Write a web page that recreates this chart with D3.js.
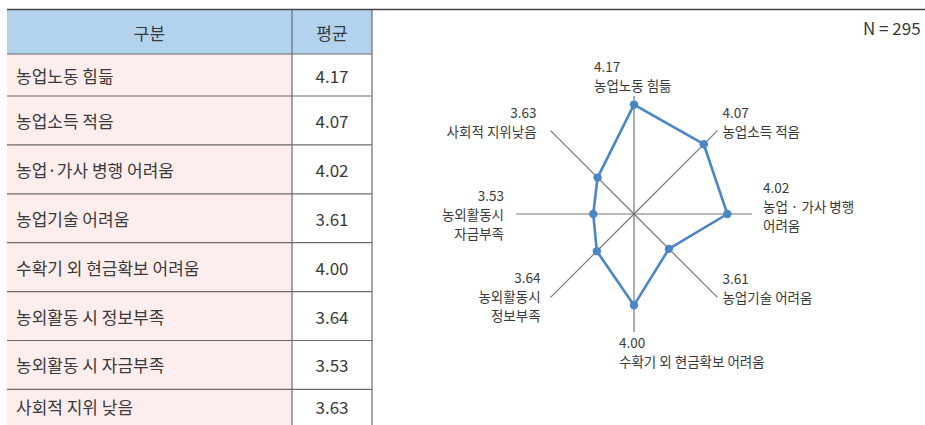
<!DOCTYPE html>
<meta charset="utf-8">
<style>
body { margin: 0; background: #fff; }
svg text { font-family: "Noto Sans CJK KR", "Noto Sans", sans-serif; fill: #3a3a3a; }
</style>
<body>
<script src="https://d3js.org/d3.v7.min.js"></script>
<script>

// data
var headers = ["구분", "평균"];
var categories = ["농업노동 힘듦", "농업소득 적음", "농업·가사 병행 어려움", "농업기술 어려움",
  "수확기 외 현금확보 어려움", "농외활동 시 정보부족", "농외활동 시 자금부족", "사회적 지위 낮음"];
var values = [4.17, 4.07, 4.02, 3.61, 4.00, 3.64, 3.53, 3.63];
var radarLabels = [["농업노동 힘듦"], ["농업소득 적음"], ["농업 · 가사 병행", "어려움"], ["농업기술 어려움"],
  ["수확기 외 현금확보 어려움"], ["농외활동시", "정보부족"], ["농외활동시", "자금부족"], ["사회적 지위낮음"]];
var sampleNote = "N = 295";

var width = 925, height = 425;

var svg = d3.select("body").append("svg")
  .attr("width", width)
  .attr("height", height);

// ---- table ----
var colX = [7, 292, 372];
var headTop = 10, headBottom = 54;
var nRows = categories.length;
// first data row is a bit shorter, last one is cut by the page edge
function rowTop(i) { return i === 0 ? headBottom : 96 + (i - 1) * 48.9; }
function rowBottom(i) { return i === nRows - 1 ? height - 1 : rowTop(i + 1); }

svg.append("rect")
  .attr("x", colX[0]).attr("y", headTop)
  .attr("width", colX[2] - colX[0]).attr("height", headBottom - headTop)
  .attr("fill", "#b3d2ee");

var rows = svg.selectAll(".row").data(categories).enter()
  .append("g").attr("class", "row");

rows.append("rect")
  .attr("x", colX[0]).attr("y", function(d, i) { return rowTop(i); })
  .attr("width", colX[1] - colX[0])
  .attr("height", function(d, i) { return (i === nRows - 1 ? height : rowBottom(i)) - rowTop(i); })
  .attr("fill", "#fdeded");

rows.append("text")
  .attr("x", 16)
  .attr("y", function(d, i) { return (rowTop(i) + rowBottom(i)) / 2; })
  .attr("dominant-baseline", "central")
  .style("font-size", "17px")
  .text(function(d) { return d; });

rows.append("text")
  .attr("x", (colX[1] + colX[2]) / 2)
  .attr("y", function(d, i) { return (rowTop(i) + rowBottom(i)) / 2; })
  .attr("text-anchor", "middle")
  .attr("dominant-baseline", "central")
  .style("font-size", "17px")
  .text(function(d, i) { return values[i].toFixed(2); });

rows.append("line")
  .attr("x1", colX[0]).attr("x2", colX[2])
  .attr("y1", function(d, i) { return rowTop(i); })
  .attr("y2", function(d, i) { return rowTop(i); })
  .attr("stroke", "#6b6b6b").attr("stroke-width", 1.2);

svg.selectAll(".head").data(headers).enter()
  .append("text")
  .attr("x", function(d, i) { return (colX[i] + colX[i + 1]) / 2; })
  .attr("y", (headTop + headBottom) / 2)
  .attr("text-anchor", "middle")
  .attr("dominant-baseline", "central")
  .style("font-size", "17px")
  .text(function(d) { return d; });

// vertical rules
[colX[1], colX[2]].forEach(function(x) {
  svg.append("line")
    .attr("x1", x).attr("x2", x).attr("y1", headTop).attr("y2", height)
    .attr("stroke", "#6b6b6b").attr("stroke-width", 1.2);
});

// top rule across the page
svg.append("line")
  .attr("x1", colX[0]).attr("x2", width).attr("y1", 9.5).attr("y2", 9.5)
  .attr("stroke", "#444").attr("stroke-width", 1.5);

svg.append("text")
  .attr("x", 863).attr("y", 27)
  .attr("dominant-baseline", "central")
  .style("font-size", "17px")
  .text(sampleNote);

// ---- radar ----
var cx = 634, cy = 214, R = 118;
var r = d3.scaleLinear().domain([3.15, 4.25]).range([0, R]);
var n = categories.length;
function angle(i) { return i * 2 * Math.PI / n; }

var radar = svg.append("g").attr("transform", "translate(" + cx + "," + cy + ")");

radar.selectAll(".spoke").data(categories).enter()
  .append("line")
  .attr("x1", 0).attr("y1", 0)
  .attr("x2", function(d, i) { return R * Math.sin(angle(i)); })
  .attr("y2", function(d, i) { return -R * Math.cos(angle(i)); })
  .attr("stroke", "#777").attr("stroke-width", 1.2);

var line = d3.lineRadial()
  .angle(function(d, i) { return angle(i); })
  .radius(function(d) { return r(d); })
  .curve(d3.curveLinearClosed);

radar.append("path")
  .datum(values)
  .attr("d", line)
  .attr("fill", "none")
  .attr("stroke", "#4a86c5")
  .attr("stroke-width", 2.6)
  .attr("stroke-linejoin", "round");

radar.selectAll(".dot").data(values).enter()
  .append("circle")
  .attr("cx", function(d, i) { return r(d) * Math.sin(angle(i)); })
  .attr("cy", function(d, i) { return -r(d) * Math.cos(angle(i)); })
  .attr("r", 4.2)
  .attr("fill", "#4a86c5");

// label offsets from spoke ends: [dx, dy, anchor]
var labelPos = [[-40, -30, "start"], [5, -19, "start"], [11, -27, "start"], [5, -19, "start"],
  [-15, 10, "start"], [-10, -20, "end"], [-12, -19, "end"], [-14, -19, "end"]];
var lineGap = 19;

var labels = radar.selectAll(".lab").data(values).enter()
  .append("text")
  .attr("text-anchor", function(d, i) { return labelPos[i][2]; })
  .style("font-size", "13.5px");

labels.each(function(d, i) {
  var x = R * Math.sin(angle(i)) + labelPos[i][0];
  var y = -R * Math.cos(angle(i)) + labelPos[i][1];
  var lines = [d.toFixed(2)].concat(radarLabels[i]);
  d3.select(this).selectAll("tspan").data(lines).enter()
    .append("tspan")
    .attr("x", x)
    .attr("y", function(t, j) { return y + j * lineGap; })
    .attr("dominant-baseline", "central")
    .text(function(t) { return t; });
});

</script>
</body>
